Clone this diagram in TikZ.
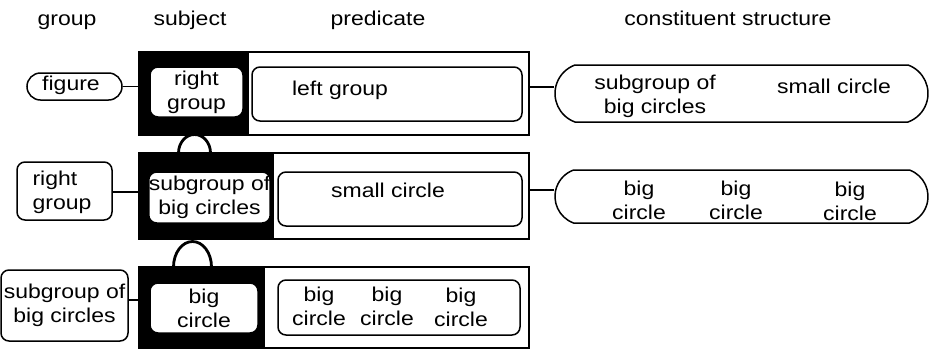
\documentclass[tikz,border=0pt]{standalone}
\usepackage{fontspec}
\setmainfont[FakeStretch=1.15]{Liberation Sans}
\usepackage{tikz}
\usetikzlibrary{shapes.misc}
\tikzset{frame/.style = {shape = rectangle, draw, line width = 1.5pt, inner sep = 0pt}}
\tikzset{subj/.style = {frame, fill = black}}
\tikzset{item/.style = {shape = rectangle, draw, fill = white, rounded corners = 8pt, line width = 1.5pt, inner sep = 0pt, align = center}}
\tikzset{pill/.style = {shape = rounded rectangle, draw, fill = white, line width = 1.5pt, inner sep = 0pt, align = center}}
\tikzset{cons/.style = {pill, rounded rectangle arc length = 140}}
\tikzset{word/.style = {inner sep = 0pt, align = center}}
\tikzset{head/.style = {inner sep = 0pt, anchor = base}}
\tikzset{edge/.style = {-, line width = 1.5pt}}
\tikzset{hook/.style = {-, line width = 2.8pt}}

\begin{document}
\begin{tikzpicture}[x = 1pt, y = -1pt, font = \fontsize{20}{24}\selectfont]
			\useasboundingbox (0, 0) rectangle (931, 349);

			% column heads
			\node[head] (hgroup) at (67, 25) {group};
			\node[head] (hsubj) at (190, 25) {subject};
			\node[head] (hpred) at (378, 25) {predicate};
			\node[head] (hcons) at (728, 25) {constituent structure};

			% first row
			\node[frame, minimum width = 390pt, minimum height = 83pt] (r1) at (334, 93.5) {};
			\node[subj, minimum width = 109pt, minimum height = 83pt] (k1) at (193.5, 93.5) {};
			\node[item, minimum width = 93pt, minimum height = 50pt] (s1) at (196.5, 92) {right\\group};
			\node[item, minimum width = 270pt, minimum height = 54pt] (p1) at (387, 94) {};
			\node[word] (p1a) at (340, 90) {left group};
			\node[pill, minimum width = 95pt, minimum height = 27pt] (g1) at (74.5, 86.5) {};
			\node[word] (g1a) at (71, 85) {figure};
			\node[cons, minimum width = 373pt, minimum height = 57pt] (c1) at (741.5, 93.5) {};
			\node[word] (c1a) at (655, 96) {subgroup of\\big circles};
			\node[word] (c1b) at (834, 86) {small circle};

			% second row
			\node[frame, minimum width = 390pt, minimum height = 86pt] (r2) at (334, 196) {};
			\node[subj, minimum width = 134pt, minimum height = 86pt] (k2) at (206, 196) {};
			\node[item, minimum width = 119pt, minimum height = 51pt] (s2) at (209.5, 197.5) {subgroup of\\big circles};
			\node[item, minimum width = 244pt, minimum height = 54pt] (p2) at (400, 199) {};
			\node[word] (p2a) at (388, 190) {small circle};
			\node[item, minimum width = 95pt, minimum height = 58pt] (g2) at (64.5, 191) {};
			\node[word, align = left] (g2a) at (62, 192) {right\\group};
			\node[cons, minimum width = 373pt, minimum height = 53pt] (c2) at (741.5, 196.5) {};
			\node[word] (c2a) at (639, 200) {big\\circle};
			\node[word] (c2b) at (736, 200) {big\\circle};
			\node[word] (c2c) at (850, 201) {big\\circle};

			% third row
			\node[frame, minimum width = 390pt, minimum height = 81pt] (r3) at (334, 307.5) {};
			\node[subj, minimum width = 125pt, minimum height = 81pt] (k3) at (201.5, 307.5) {};
			\node[item, minimum width = 108pt, minimum height = 50pt] (s3) at (204, 308) {big\\circle};
			\node[item, minimum width = 242pt, minimum height = 55pt] (p3) at (399, 307.5) {};
			\node[word] (p3a) at (319, 306) {big\\circle};
			\node[word] (p3b) at (387, 306) {big\\circle};
			\node[word] (p3c) at (461, 307) {big\\circle};
			\node[item, minimum width = 127pt, minimum height = 71pt] (g3) at (64.5, 305.5) {subgroup of\\big circles};

			% links
			\draw[edge] (g1.east) -- (g1.east -| r1.west);
			\draw[edge] (g2.east |- g2a.west) -- (g2a.west -| r2.west);
			\draw[edge] (g3.east |- 0, 300) -- (r3.west |- 0, 300);
			\draw[edge] (r1.east |- 0, 87) -- (c1.west |- 0, 87);
			\draw[edge] (r2.east |- 0, 190) -- (c2.west |- 0, 190);

			\draw[hook] (178.5, 153) arc[start angle = 180, end angle = 0, x radius = 16pt, y radius = 18.5pt];
			\draw[hook] (173.5, 267) arc[start angle = 180, end angle = 0, x radius = 19pt, y radius = 25.5pt];
		\end{tikzpicture}
\end{document}
